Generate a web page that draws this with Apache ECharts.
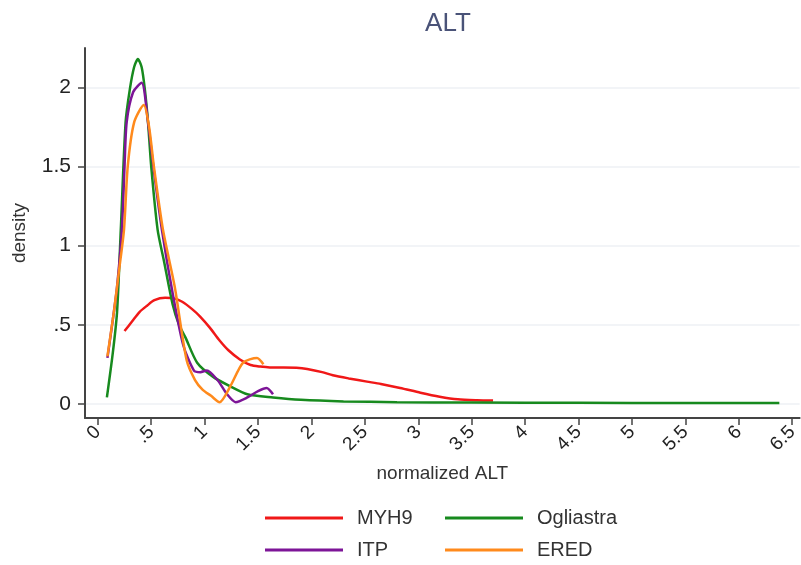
<!DOCTYPE html>
<html>
<head>
<meta charset="utf-8">
<script src="https://cdn.jsdelivr.net/npm/echarts@6/dist/echarts.min.js"></script>
<style>
  html, body { margin: 0; padding: 0; background: #fff; }
  #chart { width: 801px; height: 565px; }
</style>
</head>
<body>
<div id="chart"></div>
<script>
// tick labels
var xTicks = [0, 0.5, 1, 1.5, 2, 2.5, 3, 3.5, 4, 4.5, 5, 5.5, 6, 6.5];
var yTicks = [0, 0.5, 1, 1.5, 2];

// MYH9
var myh9X = [0.25, 0.32, 0.39, 0.46, 0.53, 0.63, 0.72, 0.79, 0.88, 0.96, 1.05, 1.14, 1.22, 1.33, 1.43, 1.52, 1.61, 1.74, 1.86, 1.96, 2.1, 2.2, 2.35, 2.52, 2.65, 2.83, 3.02, 3.2, 3.37, 3.55, 3.7];
var myh9Y = [0.46, 0.52, 0.58, 0.62, 0.655, 0.67, 0.665, 0.645, 0.6, 0.55, 0.48, 0.4, 0.34, 0.28, 0.245, 0.235, 0.23, 0.23, 0.228, 0.22, 0.2, 0.18, 0.16, 0.14, 0.125, 0.1, 0.07, 0.045, 0.028, 0.022, 0.02];

// Ogliastra
var oglX = [0.085, 0.14, 0.18, 0.215, 0.26, 0.3, 0.34, 0.375, 0.41, 0.44, 0.47, 0.5, 0.56, 0.62, 0.7, 0.76, 0.82, 0.93, 1.08, 1.24, 1.4, 1.64, 1.9, 2.3, 2.8, 3.5, 4.5, 5.5, 6.38];
var oglY = [0.04, 0.32, 0.58, 1.1, 1.78, 1.99, 2.13, 2.18, 2.13, 1.99, 1.78, 1.5, 1.1, 0.9, 0.63, 0.5, 0.42, 0.26, 0.17, 0.11, 0.06, 0.04, 0.025, 0.015, 0.01, 0.008, 0.006, 0.005, 0.005];

// ITP
var itpX = [0.09, 0.14, 0.18, 0.225, 0.25, 0.27, 0.33, 0.41, 0.47, 0.52, 0.6, 0.7, 0.8, 0.9, 0.96, 1.02, 1.12, 1.21, 1.29, 1.4, 1.5, 1.58, 1.64];
var itpY = [0.29, 0.53, 0.74, 1.1, 1.5, 1.78, 1.97, 2.03, 1.78, 1.5, 1.1, 0.7, 0.37, 0.21, 0.2, 0.21, 0.15, 0.06, 0.01, 0.04, 0.08, 0.1, 0.06];

// ERED
var eredX = [0.09, 0.15, 0.2, 0.245, 0.28, 0.34, 0.43, 0.48, 0.525, 0.61, 0.72, 0.83, 0.91, 0.98, 1.06, 1.14, 1.24, 1.36, 1.49, 1.55];
var eredY = [0.3, 0.58, 0.85, 1.1, 1.5, 1.78, 1.89, 1.75, 1.5, 1.1, 0.74, 0.28, 0.15, 0.09, 0.05, 0.01, 0.11, 0.26, 0.29, 0.25];

function pairs(xs, ys) {
    return xs.map(function (x, i) { return [x, ys[i]]; });
}

var myChart = echarts.init(document.getElementById('chart'));
var font = 'Liberation Sans, Arial, sans-serif';

function legendBlock(names, left) {
    return {
        data: names,
        orient: 'vertical',
        left: left,
        top: 508,
        height: 60,
        icon: 'rect',
        itemWidth: 78,
        itemHeight: 3,
        itemGap: 12,
        padding: 0,
        textStyle: { fontSize: 20, color: '#333', fontFamily: font, padding: [0, 0, 0, 9] }
    };
}

var option = {
    animation: false,
    title: {
        text: 'ALT',
        left: 443,
        textAlign: 'center',
        top: 6,
        textStyle: { color: '#4a5378', fontSize: 26, fontWeight: 'normal', fontFamily: font }
    },
    legend: [legendBlock(['MYH9', 'ITP'], 265), legendBlock(['Ogliastra', 'ERED'], 445)],
    grid: { left: 85, right: 1, top: 48, bottom: 147 },
    xAxis: {
        type: 'value',
        min: -0.12,
        max: 6.57,
        name: 'normalized ALT',
        nameLocation: 'middle',
        nameGap: 46,
        nameTextStyle: { fontSize: 19, color: '#333', fontFamily: font },
        axisLine: { onZero: false, lineStyle: { color: '#444', width: 2 } },
        axisTick: { customValues: xTicks, length: 7, lineStyle: { color: '#444', width: 1.5 } },
        axisLabel: {
            customValues: xTicks,
            rotate: 45,
            fontSize: 19,
            color: '#222',
            fontFamily: font,
            margin: 11,
            formatter: function (v) { return String(v).replace(/^0\./, '.'); }
        },
        splitLine: { show: false }
    },
    yAxis: {
        type: 'value',
        min: -0.09,
        max: 2.25,
        name: 'density',
        nameLocation: 'middle',
        nameGap: 56,
        nameTextStyle: { fontSize: 19, color: '#333', fontFamily: font },
        axisLine: { show: true, onZero: false, lineStyle: { color: '#444', width: 2 } },
        axisTick: { show: true, customValues: yTicks, length: 7, lineStyle: { color: '#444', width: 1.5 } },
        axisLabel: {
            customValues: yTicks,
            fontSize: 21,
            color: '#222',
            fontFamily: font,
            margin: 14,
            formatter: function (v) { return String(v).replace(/^0\./, '.'); }
        },
        splitLine: { show: true, lineStyle: { color: '#eef1f4', width: 1.5 } }
    },
    series: [{
        name: 'MYH9',
        type: 'line',
        smooth: 0.25,
        symbol: 'none',
        color: '#f01818',
        lineStyle: { width: 2.5 },
        data: pairs(myh9X, myh9Y)
    }, {
        name: 'Ogliastra',
        type: 'line',
        smooth: 0.25,
        symbol: 'none',
        color: '#178a1e',
        lineStyle: { width: 2.5 },
        data: pairs(oglX, oglY)
    }, {
        name: 'ITP',
        type: 'line',
        smooth: 0.25,
        symbol: 'none',
        color: '#7d1597',
        lineStyle: { width: 2.5 },
        data: pairs(itpX, itpY)
    }, {
        name: 'ERED',
        type: 'line',
        smooth: 0.25,
        symbol: 'none',
        color: '#ff8a1c',
        lineStyle: { width: 2.5 },
        data: pairs(eredX, eredY)
    }]
};

myChart.setOption(option);
</script>
</body>
</html>
